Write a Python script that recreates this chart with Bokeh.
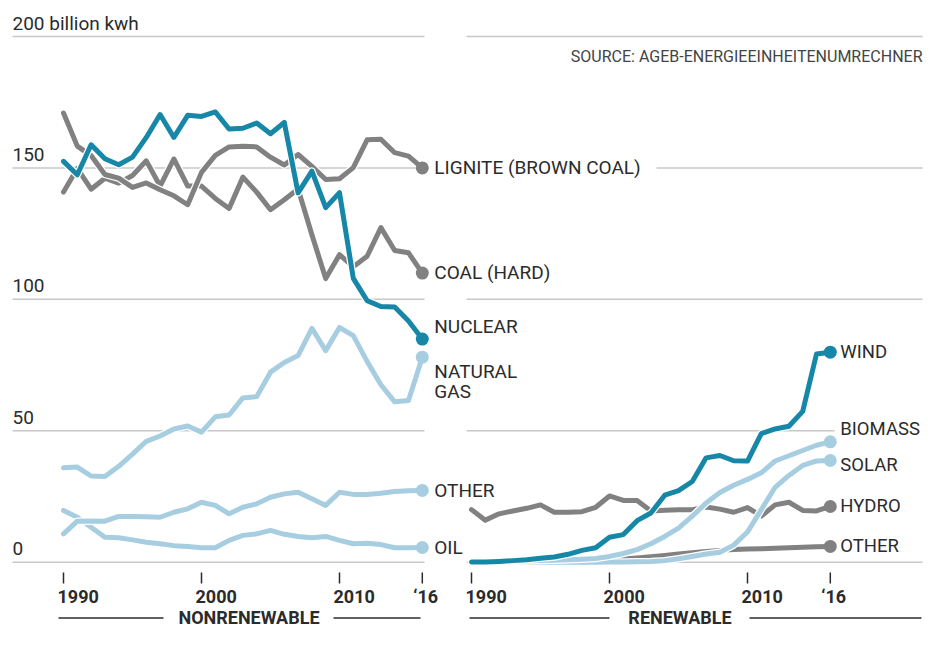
from bokeh.plotting import figure
from bokeh.models import Range1d, ColumnDataSource
from bokeh.core.properties import value
from bokeh.embed import file_html
from bokeh.resources import INLINE

# ---------------- data (billion kWh) ----------------
years = list(range(1990, 2017))

lignite = [170.9, 158.3, 154.7, 147.5, 146.1, 142.6, 144.3, 141.7, 139.4, 136.0,
           148.3, 154.8, 158.0, 158.2, 158.0, 154.1, 151.1, 155.1, 150.6, 145.6,
           145.9, 150.1, 160.7, 160.9, 155.8, 154.5, 150.0]
hard_coal = [140.8, 149.8, 141.9, 146.1, 144.2, 147.1, 152.7, 143.1, 153.4, 143.1,
             143.1, 138.4, 134.6, 146.5, 140.8, 134.1, 137.9, 142.0, 124.6, 107.9,
             117.0, 112.4, 116.4, 127.3, 118.6, 117.7, 110.0]
nuclear = [152.5, 147.4, 158.8, 153.5, 151.2, 154.1, 161.6, 170.3, 161.6, 170.0,
           169.6, 171.3, 164.8, 165.1, 167.1, 163.0, 167.3, 140.5, 148.8, 134.9,
           140.6, 108.0, 99.5, 97.3, 97.1, 91.8, 84.9]
natural_gas = [35.9, 36.2, 32.8, 32.6, 36.5, 41.1, 46.0, 48.0, 50.7, 51.8,
               49.5, 55.3, 56.0, 62.5, 63.0, 72.3, 76.0, 78.6, 89.0, 80.5,
               89.3, 86.2, 76.4, 67.5, 61.0, 61.5, 78.0]
other_nonren = [10.8, 15.6, 15.7, 15.6, 17.4, 17.4, 17.3, 17.1, 19.0, 20.3,
                22.8, 21.6, 18.4, 20.9, 22.2, 24.7, 26.0, 26.6, 24.1, 21.6,
                26.6, 25.8, 25.8, 26.2, 26.9, 27.2, 27.3]
oil = [19.7, 17.1, 13.3, 9.5, 9.3, 8.5, 7.6, 7.0, 6.3, 6.0,
       5.5, 5.5, 8.3, 10.2, 10.8, 12.1, 10.6, 9.8, 9.3, 9.8,
       8.3, 7.0, 7.2, 6.7, 5.5, 5.5, 5.6]

wind = [0.07, 0.1, 0.3, 0.6, 0.9, 1.5, 2.0, 3.0, 4.5, 5.5,
        9.5, 10.5, 15.8, 18.7, 25.5, 27.2, 30.7, 39.7, 40.6, 38.6,
        38.5, 48.9, 50.7, 51.7, 57.4, 79.2, 79.9]
biomass = [0.2, 0.3, 0.3, 0.4, 0.5, 0.6, 0.7, 0.9, 1.1, 1.4,
           2.2, 3.3, 4.8, 7.0, 9.8, 13.0, 17.5, 22.5, 26.5, 29.3,
           31.5, 34.0, 38.5, 40.5, 42.5, 44.5, 45.8]
solar = [0.0, 0.0, 0.0, 0.0, 0.0, 0.0, 0.0, 0.0, 0.0, 0.0,
         0.1, 0.1, 0.2, 0.3, 0.6, 1.3, 2.2, 3.1, 3.8, 6.5,
         11.5, 20.0, 28.5, 33.0, 36.8, 38.5, 38.7]
hydro = [20.0, 16.0, 18.4, 19.5, 20.5, 21.8, 19.0, 19.0, 19.2, 20.9,
         25.2, 23.5, 23.5, 19.5, 19.8, 20.0, 20.0, 21.0, 20.2, 19.0,
         20.8, 17.6, 21.8, 22.8, 19.7, 19.5, 21.2]
other_ren = [0.3, 0.3, 0.3, 0.4, 0.4, 0.5, 0.5, 0.6, 0.7, 0.8,
             0.9, 1.2, 1.6, 2.1, 2.6, 3.1, 3.6, 4.1, 4.5, 4.8,
             5.0, 5.1, 5.3, 5.5, 5.7, 5.9, 6.0]

y_ticks = [0, 50, 100, 150, 200]
y_tick_labels = ["0", "50", "100", "150", "200 billion kwh"]
x_ticks = [1990, 2000, 2010, 2016]
x_tick_labels = ["1990", "2000", "2010", "\u201816"]

# ---------------- layout / style ----------------
W, H = 923, 630
PX_PER_YEAR = 13.8
LEFT_1990 = 63
RIGHT_1990 = 471
Y0 = 561.7
PX_PER_UNIT = 2.6285
TS = -7.0   # text vertical correction (px)

x_start = 1990 - LEFT_1990 / PX_PER_YEAR
x_end = x_start + W / PX_PER_YEAR
rx_start = 1990 - RIGHT_1990 / PX_PER_YEAR
rx_end = rx_start + W / PX_PER_YEAR
y_start = -(H - Y0) / PX_PER_UNIT
y_end = Y0 / PX_PER_UNIT


def lx(sx):
    return x_start + sx / PX_PER_YEAR


def yv(sy):
    return (Y0 - sy) / PX_PER_UNIT


TEAL = "#1787a8"
GRAY = "#818181"
LIGHT = "#a7cde1"
TEXT = "#2b2b2b"
GRID = "#c8c8c8"
FONT = value("Roboto")

p = figure(width=W, height=H, x_range=Range1d(x_start, x_end),
           y_range=Range1d(y_start, y_end), output_backend="svg",
           toolbar_location=None, x_axis_location=None, y_axis_location=None,
           min_border=0, outline_line_color=None,
           background_fill_color="white", border_fill_color="white")
p.extra_x_ranges = {"renew": Range1d(rx_start, rx_end)}
p.grid.visible = False

# gridlines
n = len(y_ticks)
p.segment(x0=[lx(12)] * n, x1=[lx(424)] * n, y0=y_ticks, y1=y_ticks,
          line_color=GRID, line_width=1.5)
r_x0 = [lx(466), lx(466), lx(466), lx(656), lx(466)]
r_x1 = [lx(922), lx(834), lx(922), lx(922), lx(922)]
p.segment(x0=r_x0, x1=r_x1, y0=y_ticks, y1=y_ticks, line_color=GRID,
          line_width=1.5)

# y tick labels
p.text(x=[lx(12)] * n, y=y_ticks, text=y_tick_labels, y_offset=-6.5 + TS,
       text_font=FONT, text_font_size="19px", text_color=TEXT,
       text_align="left", text_baseline="alphabetic")

# source
p.text(x=[lx(922)], y=[yv(63)], text=["SOURCE: AGEB-ENERGIEEINHEITENUMRECHNER"],
       y_offset=TS, text_font=FONT, text_font_size="16px",
       text_color="#444444", text_align="right", text_baseline="alphabetic")

# x ticks and labels
for rn in ("default", "renew"):
    p.segment(x0=x_ticks, x1=x_ticks, y0=[yv(572)] * 4, y1=[yv(583)] * 4,
              line_color=TEXT, line_width=1.5, x_range_name=rn)
    p.text(x=x_ticks, y=[yv(603)] * 4, text=x_tick_labels,
           x_offset=[-6, -6, -6, -9], y_offset=TS, x_range_name=rn,
           text_font=FONT, text_font_size="18px", text_font_style="bold",
           text_color=TEXT, text_align="left", text_baseline="alphabetic")

# section captions
p.segment(x0=[lx(58), lx(333), lx(469), lx(749)],
          x1=[lx(163), lx(420), lx(609), lx(921)],
          y0=[yv(617.5)] * 4, y1=[yv(617.5)] * 4, line_color=TEXT,
          line_width=1.3)
p.text(x=[lx(248.5), lx(679.5)], y=[yv(624)] * 2,
       text=["NONRENEWABLE", "RENEWABLE"], y_offset=TS, text_font=FONT,
       text_font_size="18px", text_font_style="bold", text_color=TEXT,
       text_align="center", text_baseline="alphabetic")


def draw(series, color, rn="default"):
    src = ColumnDataSource(dict(x=years, y=series))
    p.line("x", "y", source=src, line_color="white", line_width=7.5,
           line_join="round", line_cap="round", x_range_name=rn)
    p.line("x", "y", source=src, line_color=color, line_width=5,
           line_join="round", line_cap="round", x_range_name=rn)
    p.scatter([years[-1]], [series[-1]], size=13, fill_color=color,
              line_color=None, x_range_name=rn)


# nonrenewable panel
draw(hard_coal, GRAY)
draw(lignite, GRAY)
draw(oil, LIGHT)
draw(other_nonren, LIGHT)
draw(natural_gas, LIGHT)
draw(nuclear, TEAL)

# renewable panel
draw(hydro, GRAY, "renew")
draw(other_ren, GRAY, "renew")
draw(solar, LIGHT, "renew")
draw(biomass, LIGHT, "renew")
draw(wind, TEAL, "renew")

# end labels
CAP = 6.6 + TS
left_lab = ColumnDataSource(dict(
    x=[years[-1]] * 7,
    y=[lignite[-1], hard_coal[-1], nuclear[-1], natural_gas[-1],
       natural_gas[-1], other_nonren[-1], oil[-1]],
    t=["LIGNITE (BROWN COAL)", "COAL (HARD)", "NUCLEAR", "NATURAL", "GAS",
       "OTHER", "OIL"],
    dy=[CAP, CAP, CAP - 12, CAP + 14.8, CAP + 34.8, CAP, CAP]))
p.text("x", "y", text="t", y_offset="dy", x_offset=12, source=left_lab,
       text_font=FONT, text_font_size="19px", text_color=TEXT,
       text_align="left", text_baseline="alphabetic")

right_lab = ColumnDataSource(dict(
    x=[years[-1]] * 5,
    y=[wind[-1], biomass[-1], solar[-1], hydro[-1], other_ren[-1]],
    t=["WIND", "BIOMASS", "SOLAR", "HYDRO", "OTHER"],
    dy=[CAP, CAP - 12.7, CAP + 5, CAP, CAP]))
p.text("x", "y", text="t", y_offset="dy", x_offset=10, source=right_lab,
       x_range_name="renew", text_font=FONT, text_font_size="18.5px",
       text_color=TEXT, text_align="left", text_baseline="alphabetic")

open("out.html", "w").write(file_html(p, INLINE))
